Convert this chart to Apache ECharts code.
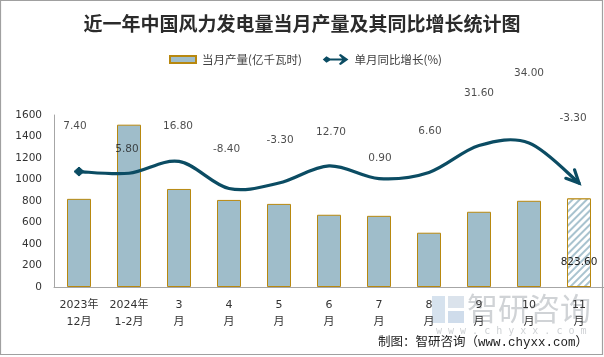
<!DOCTYPE html>
<html><head><meta charset="utf-8">
<script src="https://cdn.jsdelivr.net/npm/echarts@6/dist/echarts.min.js"></script>
<style>html,body{margin:0;padding:0;background:#fff}#c{width:604px;height:357px}</style>
</head><body><div id="c"></div>
<script>
// ---- data ----
const categories = ['2023年\n12月', '2024年\n1-2月', '3\n月', '4\n月', '5\n月', '6\n月', '7\n月', '8\n月', '9\n月', '10\n月', '11\n月'];
const production = [820, 1510, 912, 810, 773, 672, 662, 505, 700, 802, 823.6];
const growth = [7.4, 5.8, 16.8, -8.4, -3.3, 12.7, 0.9, 6.6, 31.6, 34.0, -3.3];
const seriesNames = ['当月产量(亿千瓦时)', '单月同比增长(%)'];
const titleText = '近一年中国风力发电量当月产量及其同比增长统计图';
const sourceText = '制图：智研咨询（www.chyxx.com）';

// ---- style ----
const lineColor = '#0b4c63';
const barFill = '#9fbdca';
const barBorder = '#b8880f';
const numFont = '"DejaVu Sans", "Noto Sans CJK SC", sans-serif';
const labelShift = [[-4,-45.5],[-2,-24],[-1,-35],[-2.5,-39.5],[1,-43],[2,-34],[1,-20],[1,-41.5],[0,-52],[0,-70],[-6,-65]];
const lastIdx = production.length - 1;

const barData = production.map((v, i) => i === lastIdx ? {
  value: v,
  itemStyle: {
    color: '#ffffff', borderColor: barBorder, borderWidth: 1,
    decal: { symbol: 'rect', symbolSize: 1, color: '#a9c3cf', backgroundColor: '#ffffff',
             dashArrayX: [1, 0], dashArrayY: [2, 2.5], rotation: -Math.PI / 4 }
  },
  label: { show: true, position: 'insideBottom', distance: 19,
           formatter: p => p.value.toFixed(2), fontSize: 10.5, color: '#1e1e1e', fontFamily: numFont }
} : v);

const labelData = growth.map((v, i) => ({
  value: [i, v],
  label: { show: true, position: 'inside', offset: labelShift[i],
           formatter: p => p.value[1].toFixed(2), fontSize: 10.5, color: '#1e1e1e', fontFamily: numFont }
}));

function renderCurve(params, api) {
  if (params.dataIndex !== 0) return null;
  const pts = growth.map((v, i) => api.coord([i, v]));
  const n = pts.length;
  let d = 'M' + pts[0][0] + ',' + pts[0][1];
  let lastC2 = pts[0];
  for (let i = 0; i < n - 1; i++) {
    const p0 = pts[Math.max(i - 1, 0)], p1 = pts[i], p2 = pts[i + 1], p3 = pts[Math.min(i + 2, n - 1)];
    const c1 = [p1[0] + (p2[0] - p0[0]) / 6, p1[1] + (p2[1] - p0[1]) / 6];
    const c2 = [p2[0] - (p3[0] - p1[0]) / 6, p2[1] - (p3[1] - p1[1]) / 6];
    d += ' C' + c1[0] + ',' + c1[1] + ' ' + c2[0] + ',' + c2[1] + ' ' + p2[0] + ',' + p2[1];
    lastC2 = c2;
  }
  const tip = pts[n - 1];
  const dx = tip[0] - lastC2[0], dy = tip[1] - lastC2[1];
  const ang = Math.atan2(dy, dx) + 0.12;
  const L = 14, half = 0.45;
  const a1 = [tip[0] - L * Math.cos(ang - half), tip[1] - L * Math.sin(ang - half)];
  const a2 = [tip[0] - L * Math.cos(ang + half), tip[1] - L * Math.sin(ang + half)];
  const s = pts[0];
  return {
    type: 'group',
    children: [
      { type: 'path', shape: { pathData: d },
        style: { fill: 'none', stroke: lineColor, lineWidth: 3.2, lineCap: 'round' } },
      { type: 'polyline', shape: { points: [a1, tip, a2] },
        style: { fill: 'none', stroke: lineColor, lineWidth: 3.2, lineJoin: 'miter', lineCap: 'round' } },
      { type: 'polygon', shape: { points: [[s[0] - 5, s[1]], [s[0], s[1] - 4.5], [s[0] + 5, s[1]], [s[0], s[1] + 4.5]] },
        style: { fill: lineColor, stroke: lineColor, lineWidth: 1 } }
    ]
  };
}

const chart = echarts.init(document.getElementById('c'), null, { renderer: 'canvas' });
chart.setOption({
  animation: false,
  backgroundColor: '#fff',
  title: { text: titleText, left: 'center', top: 9,
           textStyle: { fontSize: 19, fontWeight: 'bold', color: '#2b2b2b', fontFamily: '"Noto Sans CJK SC", sans-serif' } },
  legend: {
    left: 164, top: 48, itemGap: 21, itemWidth: 28, itemHeight: 11,
    textStyle: { fontSize: 11.5, color: '#404040', fontFamily: '"Noto Sans CJK SC", sans-serif' },
    data: [
      { name: seriesNames[0], icon: 'path://M0,2 L26,2 L26,9 L0,9 Z M0,0 M0,11' },
      { name: seriesNames[1], icon: 'path://M0,6 L4,2.5 L8,4.8 L21,4.8 L17.5,1.2 L19.5,0 L28,6 L19.5,12 L17.5,10.8 L21,7.2 L8,7.2 L4,9.5 Z' }
    ]
  },
  grid: { left: 54, right: 0, top: 115, bottom: 70 },
  xAxis: {
    type: 'category', data: categories,
    axisLine: { show: true, lineStyle: { color: '#a6a6a6', width: 1 } },
    axisTick: { show: false },
    axisLabel: { interval: 0, margin: 9, lineHeight: 17.5, fontSize: 11, color: '#333',
                 fontFamily: numFont }
  },
  yAxis: [
    { type: 'value', min: 0, max: 1600, interval: 200,
      axisLine: { show: true, lineStyle: { color: '#a6a6a6', width: 1 } },
      axisTick: { show: false }, splitLine: { show: false },
      axisLabel: { margin: 12, fontSize: 10.5, color: '#333', fontFamily: numFont, formatter: v => String(v) } },
    { type: 'value', min: -100, max: 60, show: false, splitLine: { show: false } }
  ],
  series: [
    { name: seriesNames[0], type: 'bar', data: barData, barWidth: 24, z: 2,
      itemStyle: { color: barFill, borderColor: barBorder, borderWidth: 1 } },
    { name: seriesNames[1], type: 'custom', xAxisIndex: 0, yAxisIndex: 1, z: 5,
      data: growth.map((v, i) => [i, v]), renderItem: renderCurve,
      itemStyle: { color: lineColor } },
    { name: 'growthLabels', type: 'scatter', xAxisIndex: 0, yAxisIndex: 1, z: 6,
      data: labelData, symbolSize: 1, itemStyle: { color: 'rgba(0,0,0,0)' }, silent: true }
  ],
  graphic: [
    { type: 'rect', silent: true, z: -10, shape: { x: 432, y: 296, width: 13, height: 27 },
      style: { fill: '#d6e2ee' } },
    { type: 'rect', silent: true, z: -10, shape: { x: 448, y: 296, width: 16, height: 12 },
      style: { fill: '#dbe3ec' } },
    { type: 'rect', silent: true, z: -10, shape: { x: 448, y: 311, width: 16, height: 12 },
      style: { fill: '#cfdceb' } },
    { type: 'text', silent: true, z: -10, left: 467, top: 293,
      style: { text: '智研咨询', fontSize: 31, fill: '#d0d3d6', fontFamily: '"Noto Sans CJK SC", sans-serif' } },
    { type: 'text', silent: true, z: -10, left: 436, top: 326,
      style: { text: 'w w w . c h y x x . c o m', fontSize: 10, fill: '#cfd2d5', fontFamily: '"DejaVu Sans Mono", monospace' } },
    { type: 'text', silent: true, z: 10, right: 16, top: 336,
      style: { text: sourceText, fontSize: 12.5, fill: '#222', fontFamily: '"Liberation Mono", "Noto Sans CJK SC", monospace' } },
    { type: 'rect', silent: true, z: 20, shape: { x: 0.5, y: 0.5, width: 602, height: 354 },
      style: { fill: 'none', stroke: '#a0a0a0', lineWidth: 1.2 } }
  ]
});
</script></body></html>
